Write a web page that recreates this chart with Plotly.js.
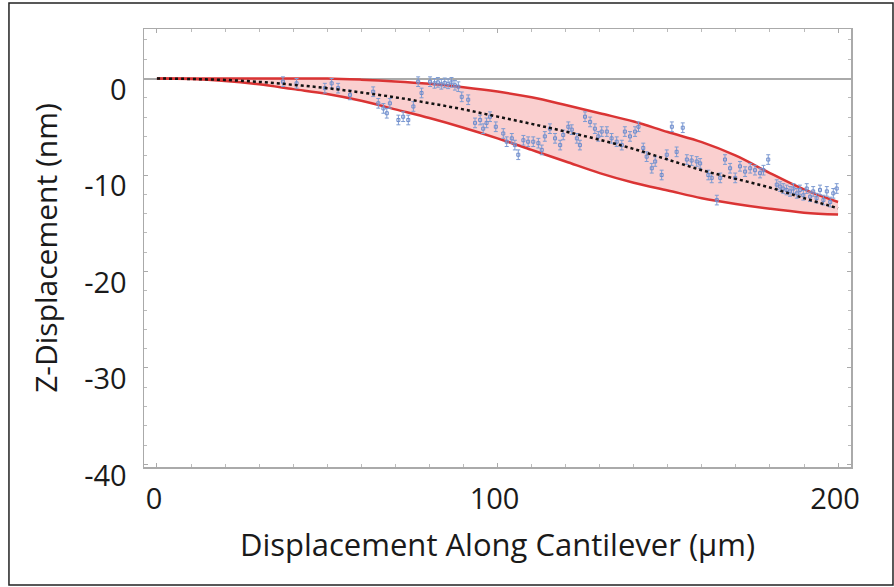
<!DOCTYPE html>
<html>
<head>
<meta charset="utf-8">
<script src="https://cdn.plot.ly/plotly-3.0.1.min.js"></script>
<style>html,body{margin:0;padding:0;background:#fff;}#chart{width:894px;height:587px;}</style>
</head>
<body>
<div id="chart"></div>
<script>
// Envelope curves (nm) along cantilever (µm)
const bandX = [0, 10, 20, 30, 40, 50, 60, 70, 80, 90, 100, 110, 120, 130, 140, 150, 160, 170, 180, 190, 200];
const upperZ = [0, 0, 0, 0, 0, 0, -0.12, -0.3, -0.55, -0.9, -1.35, -1.95, -2.75, -3.6, -4.45, -5.55, -6.6, -8.0, -9.8, -11.5, -12.8];
const lowerZ = [0, -0.05, -0.25, -0.6, -1.1, -1.6, -2.3, -3.2, -4.1, -5.1, -6.2, -7.4, -8.6, -9.8, -10.8, -11.6, -12.4, -13.0, -13.5, -13.9, -14.1];
const trendZ = [0, -0.05, -0.15, -0.35, -0.65, -1.0, -1.45, -1.95, -2.55, -3.2, -3.95, -4.7, -5.5, -6.35, -7.3, -8.4, -9.5, -10.4, -11.3, -12.4, -13.45];

// Measured points
const measX = [37, 41, 49.3, 51.3, 53.2, 56.7, 63.5, 65, 66.5, 67.5, 68.4, 70.9, 72.3, 73.8, 75.3, 76.7, 77.7, 80.2, 81.5, 82.5, 83.5, 84.5, 85.5, 86.5, 87.5, 88.5, 89.5, 91.4, 93.4, 94.9, 95.8, 96.8, 97.8, 99.5, 101.7, 102.7, 104.2, 105.1, 106.1, 107.6, 109, 110.5, 112, 113, 113.9, 115.4, 116.9, 118.4, 119.3, 120.8, 121.8, 123.3, 124.2, 125.7, 127.2, 128.6, 129.6, 130.6, 132.1, 133.5, 135, 136.5, 137.4, 138.9, 140.4, 141.4, 142.8, 143.8, 145.3, 146.3, 148.2, 149.7, 151.2, 152.6, 154.4, 155.6, 157, 158.5, 159.5, 161.9, 162.9, 164.4, 165.4, 166.8, 168.3, 169.8, 171.2, 172.7, 174.2, 175.6, 177.1, 178.1, 179.5, 182, 183, 183.9, 184.9, 185.9, 186.9, 187.9, 188.8, 189.8, 190.8, 191.8, 192.7, 193.7, 194.7, 195.7, 196.7, 197.7, 198.6, 199.6];
const measZ = [-0.33, -0.5, -1.0, -0.5, -1.0, -1.7, -1.37, -2.57, -3.1, -3.6, -2.57, -4.3, -3.96, -4.3, -2.9, -0.33, -1.5, -0.33, -0.5, -0.4, -0.6, -0.45, -0.55, -0.4, -0.7, -0.85, -1.9, -2.2, -4.6, -4.3, -5.2, -4.6, -3.96, -5.0, -5.7, -6.55, -6.2, -6.9, -7.9, -6.4, -6.55, -6.55, -6.7, -7.4, -6.0, -5.2, -6.2, -6.9, -5.85, -5.0, -5.3, -6.2, -6.9, -3.96, -4.5, -5.2, -6.0, -5.5, -5.5, -6.2, -6.55, -6.9, -5.5, -6.0, -5.5, -5.0, -7.2, -8.1, -9.3, -8.6, -10.0, -7.9, -5.0, -7.6, -5.1, -8.4, -8.5, -8.6, -8.8, -10.0, -10.3, -12.6, -10.3, -8.4, -9.3, -10.3, -9.1, -9.65, -9.3, -9.5, -9.8, -9.5, -8.4, -11.0, -11.2, -11.4, -11.55, -11.7, -11.4, -11.9, -11.55, -12.1, -11.4, -12.25, -11.7, -12.4, -11.55, -12.6, -11.7, -12.8, -11.9, -11.4];
const measErr = 0.5;

const xTicks = [0, 100, 200];
const yTicks = [0, -10, -20, -30, -40];

const red = 'rgb(218,52,52)';
const traces = [
  {x: bandX, y: upperZ, mode: 'lines', line: {color: red, width: 2.5, shape: 'spline'}, hoverinfo: 'skip'},
  {x: bandX, y: lowerZ, mode: 'lines', line: {color: red, width: 2.5, shape: 'spline'}, fill: 'tonexty', fillcolor: 'rgba(247,175,175,0.6)', hoverinfo: 'skip'},
  {x: measX, y: measZ, mode: 'markers', marker: {symbol: 'square-open', size: 3, color: 'rgb(110,140,205)', line: {width: 1}},
   error_y: {type: 'constant', value: measErr, color: 'rgb(125,155,210)', thickness: 1, width: 2}},
  {x: bandX, y: trendZ, mode: 'lines', line: {color: '#111', width: 2.5, dash: 'dot', shape: 'spline'}, hoverinfo: 'skip'}
];

const tickFont = {family: 'Open Sans, sans-serif', size: 29, color: '#1a1a1a'};
const layout = {
  width: 894, height: 587,
  margin: {l: 144, r: 43, t: 29, b: 120},
  paper_bgcolor: '#fff', plot_bgcolor: '#fff',
  showlegend: false,
  xaxis: {
    range: [-3.8, 203.8], tickvals: xTicks, ticktext: xTicks.map(String),
    ticks: 'inside', ticklen: 4, tickcolor: '#aaa', tickwidth: 1,
    showline: true, linecolor: '#aaa', linewidth: 1.5, mirror: 'ticks',
    showgrid: false, zeroline: false,
    minor: {dtick: 10, ticks: 'inside', ticklen: 3, tickcolor: '#bbb', showgrid: false},
    tickfont: tickFont, ticklabelshift: -3, ticklabelstandoff: 6,
    title: {text: 'Displacement Along Cantilever (\u03bcm)', font: {family: 'Open Sans, sans-serif', size: 31, color: '#1a1a1a'}, standoff: 18}
  },
  yaxis: {
    range: [-40.26, 5.13], tickvals: yTicks, ticktext: yTicks.map(String),
    ticks: 'inside', ticklen: 4, tickcolor: '#aaa', tickwidth: 1,
    showline: true, linecolor: '#aaa', linewidth: 1.5, mirror: 'ticks',
    showgrid: false, zeroline: true, zerolinecolor: '#aaa', zerolinewidth: 2,
    minor: {dtick: 2, ticks: 'inside', ticklen: 3, tickcolor: '#bbb', showgrid: false},
    tickfont: tickFont, ticklabelshift: 11, ticklabelstandoff: 10,
    title: {text: 'Z-Displacement (nm)', font: {family: 'Open Sans, sans-serif', size: 30, color: '#1a1a1a'}, standoff: 17}
  },
  shapes: [
    {type: 'rect', xref: 'paper', yref: 'paper', x0: -0.191, x1: 1.0594, y0: -0.2694, y1: 1.0594,
     line: {color: '#222', width: 1.5}, fillcolor: 'rgba(0,0,0,0)', layer: 'below'}
  ]
};

Plotly.newPlot('chart', traces, layout, {displayModeBar: false, staticPlot: true});
</script>
</body>
</html>
